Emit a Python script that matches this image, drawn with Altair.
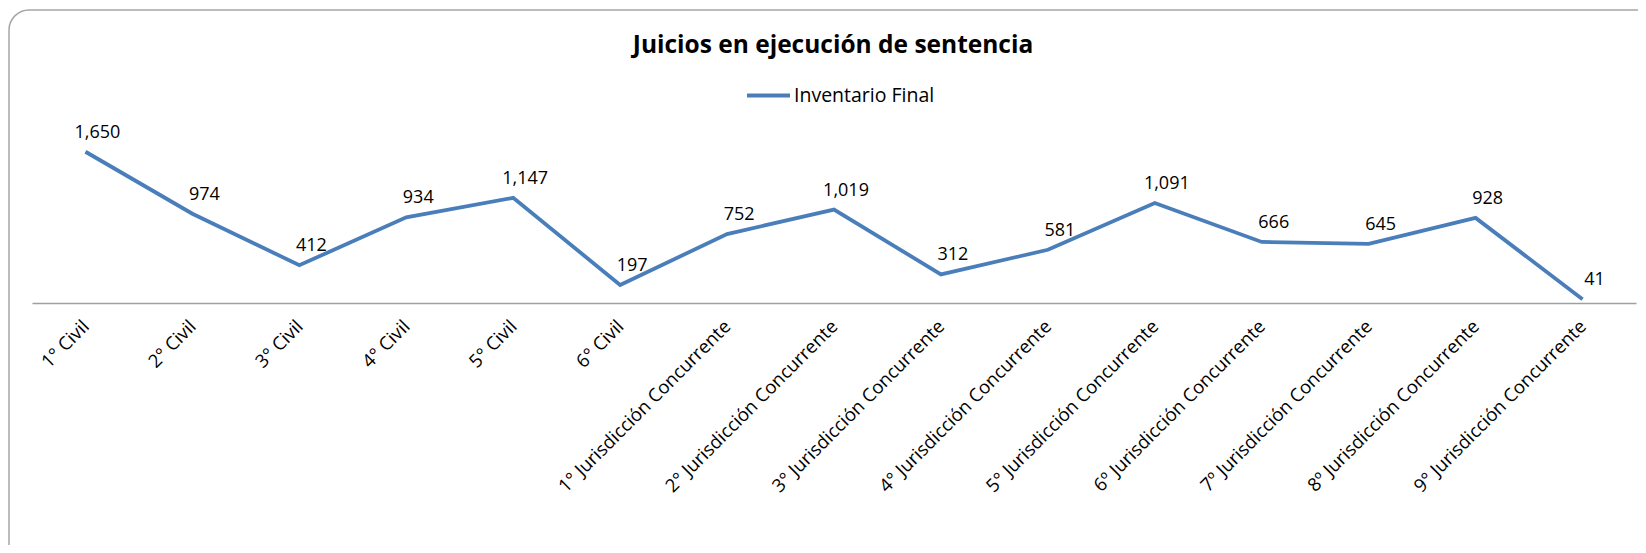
import altair as alt
import pandas as pd

categorias = [
    "1° Civil", "2° Civil", "3° Civil", "4° Civil", "5° Civil", "6° Civil",
    "1° Jurisdicción Concurrente", "2° Jurisdicción Concurrente",
    "3° Jurisdicción Concurrente", "4° Jurisdicción Concurrente",
    "5° Jurisdicción Concurrente", "6º Jurisdicción Concurrente",
    "7º Jurisdicción Concurrente", "8º Jurisdicción Concurrente",
    "9° Jurisdicción Concurrente",
]
inventario_final = [1650, 974, 412, 934, 1147, 197, 752, 1019, 312, 581, 1091, 666, 645, 928, 41]
serie = "Inventario Final"
titulo = "Juicios en ejecución de sentencia"

df = pd.DataFrame({"cat": categorias, "valor": inventario_final, "serie": serie})

FONT = "Open Sans"
W, H = 1604, 165

x = alt.X("cat:N", sort=categorias, title=None,
          scale=alt.Scale(paddingInner=0, paddingOuter=0),
          axis=alt.Axis(labelAngle=-45, labelAlign="right", labelBaseline="middle",
                        labelFont=FONT, labelFontSize=18.5, labelColor="#000000",
                        labelPadding=20, ticks=False, domainColor="#A0A0A0",
                        domainWidth=1.5, grid=False, labelLimit=400, zindex=1))
y = alt.Y("valor:Q", scale=alt.Scale(domain=[0, 1800]), axis=None)

one = pd.DataFrame({"t": [titulo]})

border = alt.Chart(one).mark_rect(
    fillOpacity=0, stroke="#A6A6A6", strokeWidth=1.5, cornerRadius=20
).encode(
    x=alt.value(9 - 32), x2=alt.value(1680 - 32),
    y=alt.value(10 - 138), y2=alt.value(590 - 138),
)

title = alt.Chart(one).mark_text(
    font=FONT, fontSize=24.5, fontWeight="bold", color="#000000",
    align="center", baseline="alphabetic"
).encode(x=alt.value(833 - 32), y=alt.value(53 - 138), text="t:N")

line = alt.Chart(df).mark_line(strokeWidth=3.8).encode(
    x=x, y=y,
    color=alt.Color("serie:N", scale=alt.Scale(range=["#4A7EBB"]),
                    legend=alt.Legend(title=None, orient="none", legendX=713, legendY=-66,
                                      symbolType="stroke", symbolSize=1849,
                                      symbolStrokeWidth=3.8, labelFont=FONT,
                                      labelFontSize=19.5, labelColor="#000000",
                                      labelOffset=2)),
)

labels = alt.Chart(df).mark_text(font=FONT, fontSize=18, color="#000000",
                                 dx=12, dy=-19).encode(
    x=x, y=y, text=alt.Text("valor:Q", format=",")
)

chart = alt.layer(border, title, line, labels).properties(
    width=W, height=H,
    autosize=alt.AutoSizeParams(type="none"),
    padding={"left": 24, "top": 130, "right": 2, "bottom": 242},
).configure(background="white").configure_view(strokeWidth=0, stroke=None)

chart.save("out.html", embed_options={"renderer": "svg", "actions": False})
